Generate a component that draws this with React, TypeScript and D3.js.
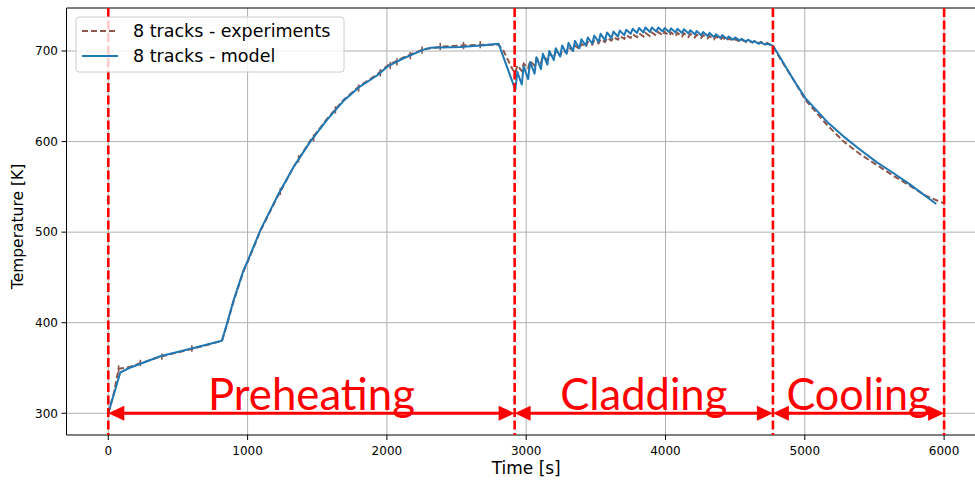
import React from 'react';
import * as d3 from 'd3';

const W = 975;
const H = 481;

// Axis ticks
const xTicks = [0, 1000, 2000, 3000, 4000, 5000, 6000];
const yTicks = [300, 400, 500, 600, 700];

// Process phases (time boundaries in s) and their names
const phaseBounds = [0, 2917, 4771, 6000];
const phaseNames = ['Preheating', 'Cladding', 'Cooling'];
const arrowLevel = 300;

// Model: preheating stage [time s, temperature K]
const modelPreheat: [number, number][] = [
  [0, 300], [86, 345], [150, 350], [373, 363], [613, 372], [816, 380],
  [852, 399], [900, 425], [971, 458], [1003, 469], [1091, 502], [1211, 539],
  [1330, 572], [1450, 600], [1570, 624], [1689, 645], [1809, 661], [1929, 673],
  [2005, 683], [2120, 692], [2264, 701.5], [2312, 703.5], [2527, 704.5],
  [2700, 706.5], [2802, 708],
];

// Cladding passes: start of each pass and time of its peak
const toothStarts = [
  2922, 2968, 3014, 3060, 3106, 3152, 3198, 3244, 3290, 3336,
  3382, 3428, 3474, 3520, 3566, 3612, 3658, 3704, 3750, 3796,
  3842, 3888, 3934, 3980, 4026, 4072, 4118, 4164, 4210, 4256,
  4302, 4348, 4394, 4440, 4486, 4532, 4578, 4624, 4670, 4716,
];
const toothTops = [
  2936, 2982, 3028, 3074, 3120, 3166, 3212, 3258, 3304, 3350,
  3396, 3442, 3488, 3534, 3580, 3626, 3672, 3718, 3764, 3810,
  3856, 3902, 3948, 3994, 4040, 4086, 4132, 4178, 4224, 4270,
  4316, 4362, 4408, 4454, 4500, 4546, 4592, 4638, 4684, 4730,
];

// Model temperatures at pass start (trough) and pass peak
const modelTroughs = [
  657, 663, 669, 675, 680, 685, 690, 694, 697, 700,
  703, 706, 708, 710, 712, 714, 716, 717.5, 719, 720,
  720.5, 721, 721.5, 721.5, 721, 720.5, 720, 719.5, 718.5, 717.5,
  716.5, 715.5, 714.5, 713.5, 712.5, 711.5, 710.5, 709.5, 708, 707,
];
const modelPeaks = [
  677, 683, 688, 693, 697, 700, 703, 706, 709, 711,
  713, 715, 717, 719, 720.5, 721.5, 722.5, 723.5, 724.5, 725.5,
  726, 726, 726, 725.5, 725, 724.5, 724, 723, 722, 721,
  720, 718.5, 717.5, 716, 715, 713.5, 712.5, 711, 709.5, 708,
];

// Model: cooling stage
const modelCool: [number, number][] = [
  [4771, 706], [4920, 668], [5004, 648], [5159, 622], [5279, 605.5],
  [5398, 591], [5518, 577], [5638, 565], [5757, 552.5], [5944, 531],
];

// Experiments: preheating stage
const expPreheat: [number, number][] = [
  [0, 300], [40, 322], [74, 349], [110, 350], [150, 351], [373, 362.5],
  [613, 371.5], [816, 380], [852, 398], [900, 424], [971, 457], [1003, 468],
  [1091, 501], [1211, 538], [1330, 572], [1450, 601], [1570, 625], [1689, 646],
  [1809, 662], [1929, 674], [2005, 684], [2120, 693], [2264, 702], [2400, 705],
  [2527, 706], [2700, 707], [2802, 707], [2838, 700], [2874, 688.5], [2905, 679],
];

// Experiments: temperatures at pass start and pass peak
const expTroughs = [
  676, 678, 681, 684, 687, 690, 693, 695, 698.5, 700.5,
  702.5, 704.5, 707, 708.5, 710, 711.5, 712.5, 713.5, 714.5, 715.5,
  716, 716.5, 717, 717, 717, 716.5, 716, 715.5, 715, 714.5,
  714, 713, 712.5, 711.5, 711, 710.5, 710, 709.5, 708.5, 707.5,
];
const expPeaks = [
  684, 686, 689, 692, 694, 697, 699, 701, 704, 706,
  708, 710, 711.5, 713, 714.5, 715.5, 716.5, 717.5, 718.5, 719.5,
  720, 720.5, 721, 721, 720.5, 720, 719.5, 719, 718, 717.5,
  716.5, 716, 715, 714, 713, 712.5, 711.5, 711, 710, 709,
];

// Experiments: cooling stage
const expCool: [number, number][] = [
  [4771, 705], [4850, 685], [4920, 668], [5004, 646], [5159, 618.5],
  [5279, 600], [5398, 586], [5518, 574], [5638, 562], [5757, 551],
  [5870, 540], [5996, 532],
];

// Short measurement spikes on the experimental record [time, low K, high K]
const expSpikes: [number, number, number][] = [
  [74, 345, 353], [230, 352, 359], [385, 359, 366], [600, 368, 375],
  [1235, 541, 549], [1366, 577, 585], [1474, 600, 608], [1630, 631, 639],
  [1797, 655, 663], [1953, 672, 680], [2024, 680, 688], [2072, 684, 692],
  [2168, 691, 699], [2252, 697, 705], [2383, 701, 709], [2550, 702, 710],
  [2670, 703, 711],
];

function withPasses(
  before: [number, number][],
  troughs: number[],
  peaks: number[],
  after: [number, number][],
): [number, number][] {
  const pts: [number, number][] = [...before];
  toothStarts.forEach((t, i) => {
    pts.push([t, troughs[i]]);
    pts.push([toothTops[i], peaks[i]]);
  });
  return pts.concat(after);
}

const modelSeries = withPasses(modelPreheat, modelTroughs, modelPeaks, modelCool);
const expSeries = withPasses(expPreheat, expTroughs, expPeaks, expCool);

const BLUE = '#1f77b4';
const BROWN = '#8c564b';
const RED = '#ff0000';
const GRID = '#b0b0b0';
const TICK_FONT = '"DejaVu Sans", sans-serif';
const PHASE_FONT = 'Lato, "Open Sans", sans-serif';

export default function App() {
  const left = 66.5;
  const top = 8;
  const bottom = 435;
  const x = d3.scaleLinear().domain([-300, 6300]).range([left, 985.9]);
  const y = d3.scaleLinear().domain([276, 747.5]).range([bottom, top]);
  const right = x(6300);

  const line = d3
    .line<[number, number]>()
    .x((d) => x(d[0]))
    .y((d) => y(d[1]));

  const ay = y(arrowLevel);
  const headL = 16;
  const headW = 7.5;
  const phaseTextWidths = [207, 167, 144];

  return (
    <svg
      width={W}
      height={H}
      style={{ position: 'absolute', left: 0, top: 0, background: '#fff' }}
    >
      <rect x={0} y={0} width={W} height={H} fill="#fff" />
      {/* grid */}
      <g stroke={GRID} strokeWidth={1}>
        {xTicks.map((t) => (
          <line key={'gx' + t} x1={x(t)} x2={x(t)} y1={top} y2={bottom} />
        ))}
        {yTicks.map((t) => (
          <line key={'gy' + t} x1={left} x2={right} y1={y(t)} y2={y(t)} />
        ))}
      </g>

      {/* experimental record */}
      <path
        d={line(expSeries) || ''}
        fill="none"
        stroke={BROWN}
        strokeWidth={2}
        strokeDasharray="6,3"
      />
      <g stroke={BROWN} strokeWidth={1.6}>
        {expSpikes.map(([t, lo, hi]) => (
          <line key={'sp' + t} x1={x(t)} x2={x(t)} y1={y(lo)} y2={y(hi)} />
        ))}
      </g>

      {/* model */}
      <path
        d={line(modelSeries) || ''}
        fill="none"
        stroke={BLUE}
        strokeWidth={2}
        strokeLinejoin="round"
      />

      {/* axes frame */}
      <g stroke="#000" strokeWidth={1} fill="none">
        <line x1={left} x2={left} y1={top} y2={bottom} />
        <line x1={left} x2={right} y1={bottom} y2={bottom} />
        <line x1={left} x2={right} y1={top} y2={top} />
        {xTicks.map((t) => (
          <line key={'tx' + t} x1={x(t)} x2={x(t)} y1={bottom} y2={bottom + 5} />
        ))}
        {yTicks.map((t) => (
          <line key={'ty' + t} x1={left - 5} x2={left} y1={y(t)} y2={y(t)} />
        ))}
      </g>
      <g fontFamily={TICK_FONT} fontSize={12} fill="#000">
        {xTicks.map((t) => (
          <text key={'lx' + t} x={x(t)} y={455} textAnchor="middle">
            {t}
          </text>
        ))}
        {yTicks.map((t) => (
          <text key={'ly' + t} x={58} y={y(t) + 4.3} textAnchor="end">
            {t}
          </text>
        ))}
      </g>
      <text
        x={(left + right) / 2}
        y={474}
        textAnchor="middle"
        fontFamily={TICK_FONT}
        fontSize={17}
      >
        Time [s]
      </text>
      <text
        transform={`translate(23,${(top + bottom) / 2 + 5}) rotate(-90)`}
        textAnchor="middle"
        fontFamily={TICK_FONT}
        fontSize={15.5}
      >
        Temperature [K]
      </text>

      {/* phase boundaries */}
      <g stroke={RED} strokeWidth={2.6} strokeDasharray="9,3.5">
        {phaseBounds.map((t) => (
          <line key={'pb' + t} x1={x(t)} x2={x(t)} y1={top} y2={bottom} />
        ))}
      </g>

      {/* phase arrows and names */}
      {phaseNames.map((name, i) => {
        const x1 = x(phaseBounds[i]);
        const x2 = x(phaseBounds[i + 1]);
        return (
          <g key={name}>
            <line
              x1={x1 + headL - 2}
              x2={x2 - headL + 2}
              y1={ay}
              y2={ay}
              stroke={RED}
              strokeWidth={3}
            />
            <polygon
              points={`${x1},${ay} ${x1 + headL},${ay - headW} ${x1 + headL},${ay + headW}`}
              fill={RED}
            />
            <polygon
              points={`${x2},${ay} ${x2 - headL},${ay - headW} ${x2 - headL},${ay + headW}`}
              fill={RED}
            />
            <text
              x={(x1 + x2) / 2}
              y={410}
              textAnchor="middle"
              fontFamily={PHASE_FONT}
              fontSize={44}
              fill={RED}
              textLength={phaseTextWidths[i]}
              lengthAdjust="spacingAndGlyphs"
            >
              {name}
            </text>
          </g>
        );
      })}

      {/* legend */}
      <g>
        <rect
          x={76}
          y={17}
          width={268}
          height={55}
          rx={3}
          fill="#fff"
          fillOpacity={0.8}
          stroke="#cccccc"
          strokeWidth={1}
        />
        <line x1={82} x2={118} y1={31} y2={31} stroke={BROWN} strokeWidth={2} strokeDasharray="6,3" />
        <line x1={82} x2={118} y1={56} y2={56} stroke={BLUE} strokeWidth={2} />
        <g fontFamily={TICK_FONT} fontSize={17.5} fill="#000">
          <text x={133} y={37.3}>8 tracks - experiments</text>
          <text x={133} y={62.3}>8 tracks - model</text>
        </g>
      </g>
    </svg>
  );
}
